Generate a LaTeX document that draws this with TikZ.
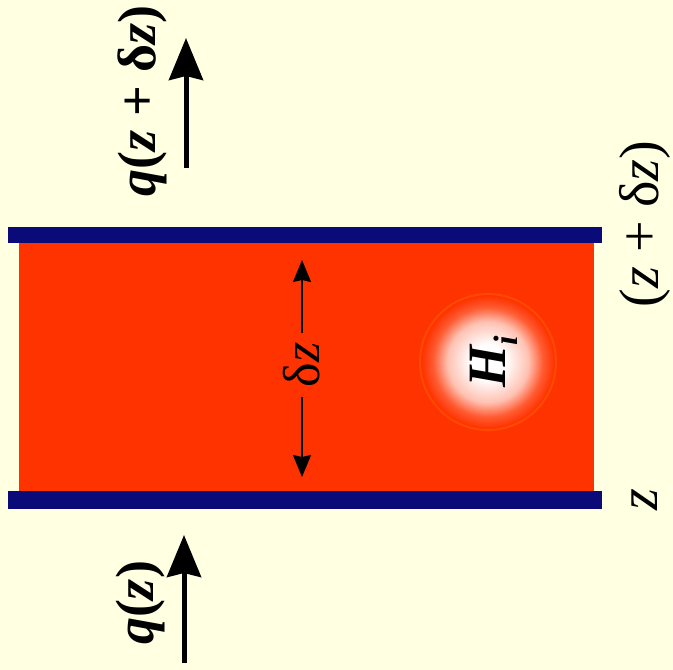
\documentclass[tikz,border=0pt]{standalone}
\usepackage{fontspec}
\setmainfont{Liberation Serif}
\usetikzlibrary{arrows.meta}
\definecolor{paper}{HTML}{FFFFE2}
\definecolor{slab}{HTML}{FF3300}
\definecolor{plate}{HTML}{0A0A78}
\pgfdeclareradialshading{glow}{\pgfpoint{0bp}{0bp}}{color(0bp)=(white); color(6bp)=(white); color(14bp)=(slab!30!white); color(19bp)=(slab!80!white); color(23bp)=(slab); color(50bp)=(slab)}
\tikzset{
  lbl/.style={rotate=90, inner sep=0pt, font=\fontsize{50}{56}\selectfont},   % rotated label
  flux/.style={line width=5pt, -{Stealth[length=42pt, width=34pt, inset=4pt]}}, % heat flux
  gap/.style={line width=2pt, -{Stealth[length=22pt, width=18pt, inset=2pt]}},  % slice width
}

\begin{document}
\begin{tikzpicture}[x=1pt, y=-1pt]
  \fill[paper] (0,0) rectangle (673,670);
  \useasboundingbox (0,0) rectangle (673,670);
  % slice and plates
  \fill[slab] (19,242) rectangle (594,491);
  \shade[shading=glow] (488,362) circle[radius=72];
  \draw[orange!60!slab, line width=2pt, opacity=.5] (488,362) circle[radius=68];
  \fill[plate] (8,227) rectangle (602,243);
  \fill[plate] (8,491) rectangle (602,509);
  % thickness
  \node[lbl, inner sep=9pt, font=\fontsize{52}{58}\selectfont] (dz) at (302,365) {δ\textit{z}};
  \coordinate (dztop) at (302,260);
  \coordinate (dzbot) at (302,477);
  \draw[gap] (dz) -- (dztop);
  \draw[gap] (dz) -- (dzbot);
  % source term
  \node[lbl, font=\fontsize{54}{60}\selectfont\bfseries\itshape] (Hi) at (494,362)
    {H\raisebox{-0.22em}{\fontsize{34}{36}\selectfont i}};
  % fluxes
  \coordinate (qtail) at (186,168);
  \coordinate (qhead) at (186,38);
  \coordinate (ptail) at (184,663);
  \coordinate (phead) at (184,535);
  \draw[flux] (qtail) -- (qhead);
  \draw[flux] (ptail) -- (phead);
  \node[lbl, font=\fontsize{54}{60}\selectfont\bfseries] (qtop) at (142,101)
    {\textit{q}(\textit{z} + δ\textit{z})};
  \node[lbl, font=\fontsize{54}{60}\selectfont\bfseries] (qbot) at (141,603)
    {\textit{q}(\textit{z})};
  % positions
  \node[lbl, font=\fontsize{56}{62}\selectfont] (ztop) at (645,224) {(\textit{z} + δ\textit{z})};
  \node[lbl, font=\fontsize{56}{62}\selectfont] (zbot) at (645,500) {\textit{z}};
\end{tikzpicture}
\end{document}
